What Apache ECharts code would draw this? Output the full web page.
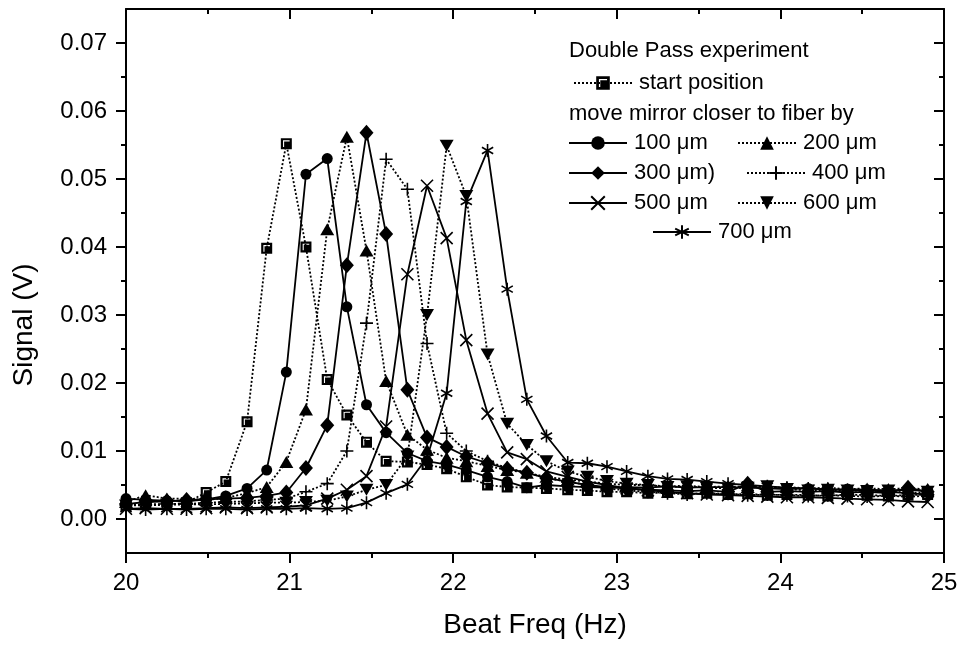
<!DOCTYPE html>
<html>
<head>
<meta charset="utf-8">
<script src="https://cdn.jsdelivr.net/npm/echarts@6/dist/echarts.min.js"></script>
<style>
html,body{margin:0;padding:0;background:#fff;}
#chart{width:962px;height:650px;}
</style>
</head>
<body>
<div id="chart"></div>
<script>
// Beat frequency (Hz)
const freq = [20.00,20.12,20.25,20.37,20.49,20.61,20.74,20.86,20.98,21.10,21.23,21.35,21.47,21.59,21.72,21.84,21.96,22.08,22.21,22.33,22.45,22.57,22.70,22.82,22.94,23.06,23.19,23.31,23.43,23.55,23.68,23.80,23.92,24.04,24.17,24.29,24.41,24.53,24.66,24.78,24.90];

// Signal (V)
const startPos = [0.0020,0.0022,0.0021,0.0024,0.0039,0.0055,0.0143,0.0398,0.0552,0.0400,0.0205,0.0153,0.0113,0.0085,0.0084,0.0080,0.0074,0.0062,0.0050,0.0047,0.0046,0.0045,0.0043,0.0042,0.0040,0.0040,0.0038,0.0039,0.0037,0.0038,0.0036,0.0037,0.0035,0.0036,0.0035,0.0034,0.0036,0.0035,0.0034,0.0035,0.0036];
const um100 = [0.0030,0.0028,0.0027,0.0026,0.0029,0.0034,0.0045,0.0072,0.0216,0.0507,0.0530,0.0312,0.0168,0.0127,0.0097,0.0085,0.0080,0.0072,0.0062,0.0055,0.0046,0.0050,0.0048,0.0047,0.0046,0.0047,0.0046,0.0048,0.0046,0.0047,0.0047,0.0046,0.0045,0.0044,0.0045,0.0043,0.0044,0.0043,0.0042,0.0043,0.0041];
const um200 = [0.0025,0.0035,0.0030,0.0030,0.0028,0.0031,0.0038,0.0047,0.0084,0.0161,0.0426,0.0562,0.0395,0.0203,0.0124,0.0102,0.0090,0.0085,0.0078,0.0072,0.0068,0.0062,0.0058,0.0055,0.0052,0.0050,0.0050,0.0048,0.0049,0.0047,0.0048,0.0047,0.0046,0.0047,0.0045,0.0046,0.0044,0.0045,0.0044,0.0045,0.0044];
const um300 = [0.0022,0.0025,0.0026,0.0028,0.0029,0.0030,0.0031,0.0034,0.0039,0.0075,0.0138,0.0373,0.0568,0.0419,0.0190,0.0120,0.0106,0.0092,0.0082,0.0074,0.0068,0.0060,0.0055,0.0050,0.0047,0.0045,0.0043,0.0042,0.0041,0.0042,0.0040,0.0052,0.0040,0.0041,0.0040,0.0041,0.0039,0.0040,0.0038,0.0046,0.0040];
const um400 = [0.0020,0.0021,0.0022,0.0022,0.0024,0.0025,0.0026,0.0028,0.0030,0.0040,0.0052,0.0100,0.0288,0.0529,0.0485,0.0258,0.0126,0.0100,0.0085,0.0075,0.0068,0.0060,0.0055,0.0050,0.0045,0.0042,0.0040,0.0038,0.0036,0.0038,0.0037,0.0035,0.0036,0.0035,0.0034,0.0035,0.0034,0.0033,0.0034,0.0033,0.0034];
const um500 = [0.0015,0.0016,0.0015,0.0015,0.0016,0.0017,0.0016,0.0017,0.0018,0.0020,0.0030,0.0043,0.0063,0.0136,0.0360,0.0490,0.0413,0.0263,0.0155,0.0098,0.0088,0.0070,0.0062,0.0055,0.0050,0.0045,0.0042,0.0040,0.0038,0.0036,0.0035,0.0034,0.0033,0.0032,0.0032,0.0031,0.0030,0.0029,0.0028,0.0026,0.0025];
const um600 = [0.0020,0.0020,0.0021,0.0021,0.0022,0.0022,0.0023,0.0024,0.0024,0.0025,0.0027,0.0033,0.0043,0.0050,0.0092,0.0300,0.0549,0.0475,0.0242,0.0140,0.0109,0.0085,0.0070,0.0062,0.0056,0.0052,0.0050,0.0047,0.0048,0.0046,0.0045,0.0046,0.0048,0.0044,0.0042,0.0043,0.0042,0.0041,0.0042,0.0038,0.0040];
const um700 = [0.0015,0.0014,0.0015,0.0014,0.0015,0.0015,0.0014,0.0015,0.0015,0.0016,0.0015,0.0016,0.0024,0.0038,0.0051,0.0090,0.0185,0.0467,0.0542,0.0338,0.0176,0.0122,0.0083,0.0082,0.0077,0.0070,0.0063,0.0059,0.0058,0.0055,0.0052,0.0050,0.0048,0.0046,0.0045,0.0044,0.0042,0.0042,0.0040,0.0038,0.0036];

const xTicks = [20,21,22,23,24,25];
const yTickLabels = [0,0.01,0.02,0.03,0.04,0.05,0.06,0.07];
const yMinorTicks = [0.005,0.015,0.025,0.035,0.045,0.055,0.065];

const seriesNames = ['start position','100 μm','200 μm','300 μm)','400 μm','500 μm','600 μm','700 μm'];
const seriesValues = [startPos, um100, um200, um300, um400, um500, um600, um700];

const FONT = '"Liberation Sans", Arial, Helvetica, sans-serif';
const DOT = [2, 2];
const styles = [
  {symbol:'path://M0,0L10,0L10,10L0,10Z M2,2L2,8L3,8L3,3L8,3L8,2Z', size:11, dash:DOT, fill:true},
  {symbol:'circle', size:11, dash:'solid', fill:true},
  {symbol:'triangle', size:[14,12], dash:DOT, fill:true},
  {symbol:'diamond', size:[14,16], dash:'solid', fill:true},
  {symbol:'path://M0,5L10,5M5,0L5,10', size:13, dash:DOT, fill:false},
  {symbol:'path://M0,0L10,10M10,0L0,10', size:12, dash:'solid', fill:false},
  {symbol:'path://M0,0L10,0L5,8.66Z', size:[14,12], dash:DOT, fill:true},
  {symbol:'path://M5,0L5,10M0.67,2.5L9.33,7.5M9.33,2.5L0.67,7.5', size:13, dash:'solid', fill:false, keep:true}
];

const series = seriesNames.map((name, k) => {
  const st = styles[k];
  return {
    name: name,
    type: 'line',
    xAxisIndex: 0,
    yAxisIndex: 0,
    data: freq.map((f, i) => [f, seriesValues[k][i]]),
    symbol: st.symbol,
    symbolSize: st.size,
    symbolKeepAspect: !!st.keep,
    showAllSymbol: true,
    lineStyle: {color:'#000', width:1.8, type: st.dash},
    itemStyle: st.fill ? {color:'#000', borderWidth:0} : {color:'#000', borderColor:'#000', borderWidth:1.6},
    emphasis: {disabled: true},
    animation: false,
    z: 2
  };
});

const legendPos = [
  {left:573, top:72},
  {left:568, top:132},
  {left:737, top:132},
  {left:568, top:162},
  {left:746, top:162},
  {left:568, top:192},
  {left:737, top:192},
  {left:652, top:221}
];
const legends = seriesNames.map((name, k) => ({
  show: true,
  data: [name],
  left: legendPos[k].left,
  top: legendPos[k].top,
  orient: 'vertical',
  itemWidth: 58,
  itemHeight: 17,
  itemGap: 0,
  padding: 0,
  selectedMode: false,
  textStyle: {fontSize: 22, color: '#000', fontFamily: FONT, padding:[0,0,0,2]}
}));

const axisLineStyle = {color:'#000', width:2};
const option = {
  backgroundColor: '#fff',
  animation: false,
  grid: {left:126, right:18, top:9, bottom:97, containLabel:false},
  legend: legends,
  xAxis: [
    {
      type:'value', position:'bottom', min:20, max:25, interval:1,
      axisLine:{show:true, onZero:false, lineStyle:axisLineStyle},
      axisTick:{show:true, inside:false, length:10, lineStyle:axisLineStyle},
      minorTick:{show:true, splitNumber:2, length:5, lineStyle:axisLineStyle},
      axisLabel:{show:true, fontSize:24, color:'#000', fontFamily:FONT, margin:18,
        customValues: xTicks},
      splitLine:{show:false}, minorSplitLine:{show:false},
      name:'Beat Freq (Hz)', nameLocation:'middle', nameGap:58,
      nameTextStyle:{fontSize:28, color:'#000', fontFamily:FONT}
    },
    {
      type:'value', position:'top', min:20, max:25, interval:1,
      axisLine:{show:true, onZero:false, lineStyle:axisLineStyle},
      axisTick:{show:true, inside:true, length:10, lineStyle:axisLineStyle},
      minorTick:{show:true, splitNumber:2, length:5, lineStyle:axisLineStyle},
      axisLabel:{show:false}, splitLine:{show:false}
    }
  ],
  yAxis: [
    {
      type:'value', position:'left', min:-0.005, max:0.075, interval:0.005,
      axisLine:{show:true, onZero:false, lineStyle:axisLineStyle},
      axisTick:{show:true, inside:false, length:10, lineStyle:axisLineStyle, customValues: yTickLabels},
      axisLabel:{show:true, fontSize:24, color:'#000', fontFamily:FONT, margin:19,
        customValues: yTickLabels, formatter: v => Number(v).toFixed(2)},
      splitLine:{show:false}
    },
    {
      type:'value', position:'left', offset:0, min:-0.005, max:0.075, interval:0.005,
      axisLine:{show:false},
      axisTick:{show:true, inside:false, length:5, lineStyle:axisLineStyle, customValues: yMinorTicks},
      axisLabel:{show:false}, splitLine:{show:false}
    },
    {
      type:'value', position:'right', offset:0, min:-0.005, max:0.075, interval:0.005,
      axisLine:{show:true, onZero:false, lineStyle:axisLineStyle},
      axisTick:{show:true, inside:true, length:10, lineStyle:axisLineStyle, customValues: yTickLabels},
      axisLabel:{show:false}, splitLine:{show:false}
    },
    {
      type:'value', position:'right', offset:0, min:-0.005, max:0.075, interval:0.005,
      axisLine:{show:false},
      axisTick:{show:true, inside:true, length:5, lineStyle:axisLineStyle, customValues: yMinorTicks},
      axisLabel:{show:false}, splitLine:{show:false}
    }
  ],
  graphic: [
    {type:'text', left:569, top:40, style:{text:'Double Pass experiment', font:'22px ' + FONT, fill:'#000'}},
    {type:'text', left:569, top:103, style:{text:'move mirror closer to fiber by', font:'22px ' + FONT, fill:'#000'}},
    {type:'text', x:24, y:325, rotation:Math.PI/2, style:{text:'Signal (V)', font:'28px ' + FONT, fill:'#000', align:'center', verticalAlign:'middle'}}
  ],
  series: series
};

const chart = echarts.init(document.getElementById('chart'), null, {renderer:'canvas'});
chart.setOption(option);
</script>
</body>
</html>
